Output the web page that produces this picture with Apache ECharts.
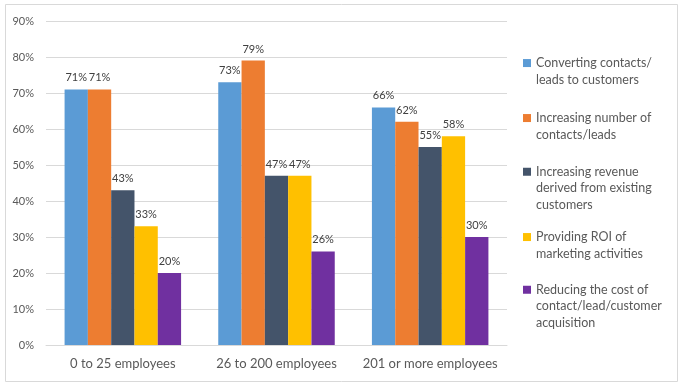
<!DOCTYPE html>
<html>
<head>
<meta charset="utf-8">
<script src="https://cdn.jsdelivr.net/npm/echarts@6/dist/echarts.min.js"></script>
<style>
html,body{margin:0;padding:0;background:#fff;}
#chart{width:683px;height:390px;}
</style>
</head>
<body>
<div id="chart"></div>
<script>
const categories = ['0 to 25 employees', '26 to 200 employees', '201 or more employees'];
const seriesNames = [
  'Converting contacts/leads to customers',
  'Increasing number of contacts/leads',
  'Increasing revenue derived from existing customers',
  'Providing ROI of marketing activities',
  'Reducing the cost of contact/lead/customer acquisition'
];
const legendLabels = [
  'Converting contacts/\nleads to customers',
  'Increasing number of\ncontacts/leads',
  'Increasing revenue\nderived from existing\ncustomers',
  'Providing ROI of\nmarketing activities',
  'Reducing the cost of\ncontact/lead/customer\nacquisition'
];
const converting = [71, 73, 66];
const increasingNumber = [71, 79, 62];
const increasingRevenue = [43, 47, 55];
const providingROI = [33, 47, 58];
const reducingCost = [20, 26, 30];
const yTicks = [0, 10, 20, 30, 40, 50, 60, 70, 80, 90];
const colors = ['#5B9BD5', '#ED7D31', '#44546A', '#FFC000', '#7030A0'];
const values = [converting, increasingNumber, increasingRevenue, providingROI, reducingCost];

const FONT = 'Lato';
const LH = 16.7;
const legendTops = [38, 93, 130, 212, 248];

const chart = echarts.init(document.getElementById('chart'), null, {renderer: 'canvas'});
const legends = seriesNames.map((name, i) => {
  const n = legendLabels[i].split('\n').length;
  const blank = '\u00a0\n'.repeat(n - 1);
  return {
    left: 523,
    top: legendTops[i],
    orient: 'vertical',
    padding: 0,
    itemWidth: 8,
    itemHeight: 8,
    icon: 'rect',
    selectedMode: false,
    data: [{name: name}],
    formatter: () => blank + legendLabels[i],
    textStyle: {
      fontFamily: FONT,
      fontSize: 12.5,
      color: '#595959',
      lineHeight: LH
    }
  };
});

const option = {
  backgroundColor: '#fff',
  animation: false,
  textStyle: {fontFamily: FONT},
  graphic: [{
    type: 'rect',
    shape: {x: 5.5, y: 4.5, width: 672, height: 377},
    style: {fill: 'none', stroke: '#d9d9d9', lineWidth: 1},
    silent: true
  }],
  grid: {left: 46, right: 176, top: 21, bottom: 45, containLabel: false},
  legend: legends,
  xAxis: {
    type: 'category',
    data: categories,
    axisLine: {lineStyle: {color: '#d9d9d9'}},
    axisTick: {show: false},
    axisLabel: {color: '#595959', fontSize: 13, fontFamily: FONT, margin: 12, interval: 0}
  },
  yAxis: {
    type: 'value',
    min: 0,
    max: 90,
    interval: 10,
    axisLine: {show: false},
    axisTick: {show: false},
    splitLine: {lineStyle: {color: '#d9d9d9'}},
    axisLabel: {color: '#595959', fontSize: 11, fontFamily: FONT, margin: 12,
      formatter: v => yTicks.includes(v) ? v + '%' : ''}
  },
  series: seriesNames.map((name, i) => ({
    name: name,
    type: 'bar',
    data: values[i],
    barWidth: 23.3,
    barGap: '0%',
    itemStyle: {color: colors[i]},
    label: {
      show: true,
      position: 'top',
      distance: 6,
      formatter: p => p.value + '%',
      color: '#404040',
      fontSize: 11,
      fontFamily: FONT
    }
  }))
};
chart.setOption(option);
</script>
</body>
</html>
